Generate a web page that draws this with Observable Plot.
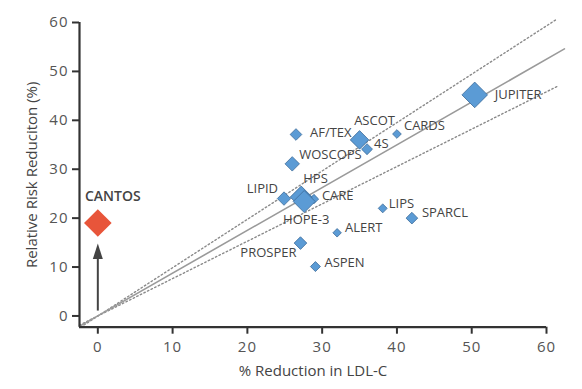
<!DOCTYPE html>
<html><head><meta charset="utf-8">
<script src="https://cdn.jsdelivr.net/npm/d3@7"></script>
<script src="https://cdn.jsdelivr.net/npm/@observablehq/plot@0.6"></script>
<style>body{margin:0;background:#fff;} .ticks text{letter-spacing:1px;}</style>
</head><body><div id="chart"></div>
<script>
// Trials (drawn in this order; larger markers last so they sit on top)
const trials        = ["ALERT","CARDS","LIPS","CARE","ASPEN","4S","AF/TEX","SPARCL","PROSPER","LIPID","WOSCOPS","ASCOT","HPS","HOPE-3","JUPITER"];
const ldlReduction  = [32.0, 40.0, 38.1, 28.9, 29.1, 36.0, 26.5, 42.0, 27.1, 24.9, 26.0, 35.0, 27.2, 27.6, 50.4];
const riskReduction = [17.0, 37.2, 22.0, 23.9, 10.1, 34.1, 37.1, 20.0, 14.9, 24.0, 31.1, 36.0, 24.3, 23.4, 45.2];
const trialSize     = [18, 19, 20, 22, 25, 30, 34, 34, 40, 45, 52, 86, 121, 121, 164];

const cantosName = "CANTOS";
const cantosLdl = 0;
const cantosRisk = 19.0;
const cantosSize = 190;
const cantosArrowFrom = 1.1;
const cantosArrowTo = 14.8;

// Reference lines (endpoints)
const trendX = [-2.45, 62.4], trendY = [-2.14, 54.6];
const upperX = [-2.3, 61.4],  upperY = [-2.3, 60.7];
const lowerX = [-2.45, 61.4], lowerY = [-1.87, 46.9];

const xTicks = [0, 10, 20, 30, 40, 50, 60];
const yTicks = [0, 10, 20, 30, 40, 50, 60];
const xDomain = [-2.45, 60];
const yDomain = [-2.3, 60];
const xTitle = "% Reduction in LDL-C";
const yTitle = "Relative Risk Reduciton (%)";

// label placement (style, not data): [textAnchor, dx, dy]
const labelLayout = {
  "AF/TEX": ["start", 14, -2],
  "ASCOT": ["middle", 15, -19],
  "4S": ["start", 7, -5],
  "CARDS": ["start", 7, -8],
  "WOSCOPS": ["start", 7, -9],
  "HPS": ["start", 2, -18],
  "LIPID": ["end", -6, -10],
  "CARE": ["start", 8, -3],
  "HOPE-3": ["middle", 2, 18],
  "LIPS": ["start", 6, -5],
  "SPARCL": ["start", 10, -5],
  "ALERT": ["start", 8, -5],
  "PROSPER": ["end", -4, 10],
  "ASPEN": ["start", 9, -4],
  "JUPITER": ["start", 20, 0]
};

const data = trials.map((t, i) => ({name: t, x: ldlReduction[i], y: riskReduction[i], s: trialSize[i]}));
const pts = (xs, ys) => xs.map((x, i) => ({x, y: ys[i]}));

const arrowHead = {draw(ctx) { ctx.moveTo(0, 0); ctx.lineTo(-5, 15.5); ctx.lineTo(5, 15.5); ctx.closePath(); }};

const font = "'Open Sans', 'Noto Sans', sans-serif";

const chart = Plot.plot({
  width: 582,
  height: 389,
  marginLeft: 79,
  marginRight: 36,
  marginTop: 22,
  marginBottom: 62.3,
  style: {fontFamily: font, background: "#fff"},
  x: {domain: xDomain, label: null},
  y: {domain: yDomain, label: null},
  r: {type: "sqrt", domain: [0, 190], range: [0, 12.43]},
  marks: [
    Plot.line(pts(upperX, upperY), {x: "x", y: "y", stroke: "#8a8a8a", strokeWidth: 1.4, strokeDasharray: "1.5,2.5"}),
    Plot.line(pts(lowerX, lowerY), {x: "x", y: "y", stroke: "#8a8a8a", strokeWidth: 1.4, strokeDasharray: "1.5,2.5"}),
    Plot.line(pts(trendX, trendY), {x: "x", y: "y", stroke: "#9a9a9a", strokeWidth: 1.6}),
    Plot.ruleY([yDomain[0]], {stroke: "#333", strokeWidth: 2.2}),
    Plot.ruleX([xDomain[0]], {stroke: "#333", strokeWidth: 2.2}),
    Plot.axisX({ticks: xTicks, tickSize: 7, tickPadding: 7, stroke: "#333", strokeWidth: 2, fill: "#555", fontSize: 15, label: null, className: "ticks", tickFormat: d => String(d)}),
    Plot.axisY({ticks: yTicks, tickSize: 7, tickPadding: 4, stroke: "#333", strokeWidth: 2, fill: "#555", fontSize: 15, label: null, className: "ticks", tickFormat: d => String(d)}),
    Plot.text([xTitle], {frameAnchor: "bottom", lineAnchor: "middle", textAnchor: "middle", dy: 43.5, fontSize: 15, fill: "#444", fontFamily: font}),
    Plot.text([yTitle], {frameAnchor: "left", lineAnchor: "middle", textAnchor: "middle", dx: -47, rotate: -90, fontSize: 15, fill: "#444", fontFamily: font}),
    Plot.link([{y1: cantosArrowFrom, y2: cantosArrowTo - 1}], {x1: () => cantosLdl, x2: () => cantosLdl, y1: "y1", y2: "y2", stroke: "#444", strokeWidth: 2}),
    Plot.dot([{x: cantosLdl, y: cantosArrowTo}], {x: "x", y: "y", symbol: arrowHead, fill: "#444", stroke: "none"}),
    Plot.dot(data, {x: "x", y: "y", r: "s", symbol: "diamond2", fill: "#5B9BD5", stroke: "#3D6C99", strokeWidth: 0.8, sort: null}),
    Plot.dot([{x: cantosLdl, y: cantosRisk, s: cantosSize}], {x: "x", y: "y", r: "s", symbol: "diamond2", fill: "#E8553A", stroke: "none"}),
    ...data.map(d => {
      const [anchor, dx, dy] = labelLayout[d.name];
      return Plot.text([d], {x: "x", y: "y", text: "name", textAnchor: anchor, dx, dy, fontSize: 13, fill: "#444", fontFamily: font});
    }),
    Plot.text([{x: cantosLdl, y: cantosRisk, name: cantosName}], {x: "x", y: "y", text: "name", textAnchor: "middle", dx: 15, dy: -27, fontSize: 14, fontWeight: 600, fill: "#444", fontFamily: font})
  ]
});
document.getElementById("chart").appendChild(chart);
</script></body></html>
